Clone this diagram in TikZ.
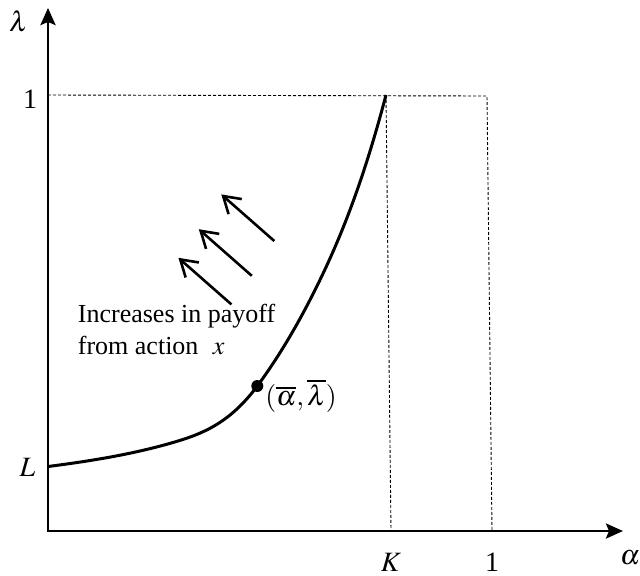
\documentclass[tikz,border=0pt]{standalone}
\usepackage{mathptmx}
\usepackage[no-math]{fontspec}
\setmainfont{Liberation Serif}
\usetikzlibrary{arrows.meta,positioning}

\begin{document}
\begin{tikzpicture}[x=0.5pt, y=0.5pt,
    axis/.style={{Stealth[length=8.5pt, width=7.5pt, inset=1.5pt]}-{Stealth[length=8.5pt, width=7.5pt, inset=1.5pt]}, line width=1.4pt},
    guide/.style={line width=0.45pt, dash pattern=on 1.5pt off 1pt},
    curve/.style={line width=1.5pt},
    push/.style={-{Straight Barb[length=8pt, width=10pt]}, line width=1.3pt},
    lbl/.style={font=\fontsize{14}{16}\selectfont, inner sep=0pt},
    txt/.style={font=\fontsize{13}{16}\selectfont, align=left, inner sep=0pt}
]
    \useasboundingbox (-48,-44) rectangle (592,531);

    % axes
    \coordinate (O) at (0,0);
    \coordinate (ytip) at (0,523);
    \coordinate (xtip) at (575,0);
    \draw[axis] (ytip) -- (O) -- (xtip);

    % dotted guides
    \coordinate (top1) at (0,436);
    \coordinate (Ktop) at (338,436);
    \coordinate (Kbot) at (343,0);
    \coordinate (onetop) at (439,435);
    \coordinate (onebot) at (444,0);
    \draw[guide] (top1) -- (onetop) -- (onebot);
    \draw[guide] (Ktop) -- (Kbot);

    % the curve
    \coordinate (Lpt) at (0,64.5);
    \coordinate (c1) at (125,88.5);
    \coordinate (c3) at (267,241);
    \draw[curve] (Lpt) .. controls (41.7,69.9) and (83.3,76.4) .. (c1)
        .. controls (153.1,96.7) and (181.2,107.1) .. (209.3,145)
        .. controls (228.5,171) and (247.8,202.5) .. (c3)
        .. controls (290.7,288.3) and (314.3,346) .. (Ktop);
    \node[circle, fill, inner sep=0pt, minimum size=6pt] (eq) at (209.3,145) {};
    \node[lbl, anchor=west] (eqlbl) at (217,135)
        {$(\overline{\alpha},\overline{\lambda})$};

    % payoff arrows
    \foreach \tx/\ty [count=\i] in {183.4/226.6, 203.8/255.2, 226.3/290} {
        \coordinate (t\i) at (\tx,\ty);
        \draw[push] (t\i) -- ++(-53,46.6);
    }
    \node[txt, anchor=north west] (note) at (29.5,227)
        {Increases in payoff\\from action\hspace{0.55em}$x$};

    % axis labels
    \node[lbl] (lam) at (-29.5,510) {$\lambda$};
    \node[lbl] (oney) at (-18,432) {1};
    \node[lbl] (L) at (-20.5,64) {$L$};
    \node[lbl] (K) at (343,-31) {$K$};
    \node[lbl] (onex) at (444,-31) {1};
    \node[lbl] (alp) at (582,-27) {$\alpha$};
\end{tikzpicture}
\end{document}
